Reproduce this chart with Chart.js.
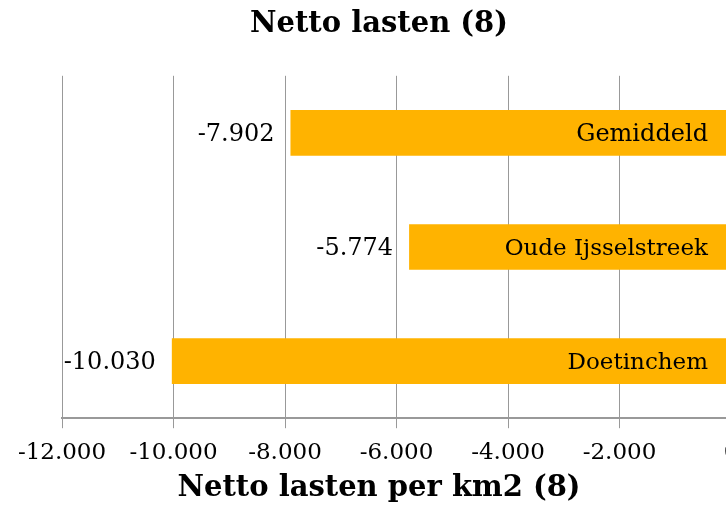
<!DOCTYPE html>
<html>
<head>
<meta charset="utf-8">
<script src="https://cdn.jsdelivr.net/npm/chart.js@4"></script>
<style>
  html, body { margin: 0; padding: 0; background: #fff; overflow: hidden; }
  #wrap { width: 758px; height: 505px; }
</style>
</head>
<body>
<div id="wrap"><canvas id="lasten"></canvas></div>
<script>
// gegevens
const gemeenten = ['Gemiddeld', 'Oude Ijsselstreek', 'Doetinchem'];
const nettoLasten = [-7902, -5774, -10030];
const xMin = -12000;
const xMax = 0;
const xStap = 2000;

const serif = 'DejaVu Serif';

// getal met punt als duizendtal-scheiding
function fmt(v) {
    const s = Math.abs(v).toString().replace(/\B(?=(\d{3})+(?!\d))/g, '.');
    return (v < 0 ? '-' : '') + s;
}

// labels bij de balken tekenen
const balkLabels = {
    id: 'balkLabels',
    afterDatasetsDraw(chart) {
        const ctx = chart.ctx;
        const x = chart.scales.x;
        const meta = chart.getDatasetMeta(0);
        ctx.save();
        ctx.fillStyle = '#000';
        ctx.textBaseline = 'middle';
        ctx.textAlign = 'right';
        meta.data.forEach((bar, i) => {
            const v = nettoLasten[i];
            ctx.font = '24px "' + serif + '"';
            ctx.fillText(fmt(v), x.getPixelForValue(v) - 16, bar.y + 2);
            ctx.font = (i === 0 ? '24px "' : '23px "') + serif + '"';
            ctx.fillText(gemeenten[i], x.getPixelForValue(0) - 23, bar.y + 2);
        });
        ctx.restore();
    }
};

new Chart(document.getElementById('lasten'), {
    type: 'bar',
    data: {
        labels: gemeenten,
        datasets: [{
            data: nettoLasten,
            backgroundColor: '#FFB300',
            borderWidth: 0,
            categoryPercentage: 1,
            barPercentage: 0.4
        }]
    },
    plugins: [balkLabels],
    options: {
        indexAxis: 'y',
        responsive: true,
        maintainAspectRatio: false,
        animation: false,
        layout: { padding: { left: 27, right: 27, top: 0, bottom: 0 } },
        plugins: {
            legend: { display: false },
            tooltip: { enabled: false },
            title: {
                display: true,
                text: 'Netto lasten (8)',
                color: '#000',
                font: { family: serif, size: 29, weight: 'bold' },
                padding: { top: 7, bottom: 34 }
            },
            subtitle: {
                display: true,
                position: 'bottom',
                text: 'Netto lasten per km2 (8)',
                color: '#000',
                font: { family: serif, size: 29, weight: 'bold', lineHeight: 1 },
                padding: { top: 7, bottom: 2 }
            }
        },
        scales: {
            x: {
                min: xMin,
                max: xMax,
                afterFit: s => {
                    s.paddingLeft = 62;
                    s.paddingRight = 0;
                    s.height = 48.8;
                },
                ticks: {
                    stepSize: xStap,
                    color: '#000',
                    font: { family: serif, size: 23 },
                    padding: 11,
                    maxRotation: 0,
                    autoSkip: false,
                    callback: v => fmt(v)
                },
                grid: { color: '#999', lineWidth: 1, tickLength: 10 },
                border: { color: '#999', width: 2 }
            },
            y: {
                display: false
            }
        }
    }
});
</script>
</body>
</html>
